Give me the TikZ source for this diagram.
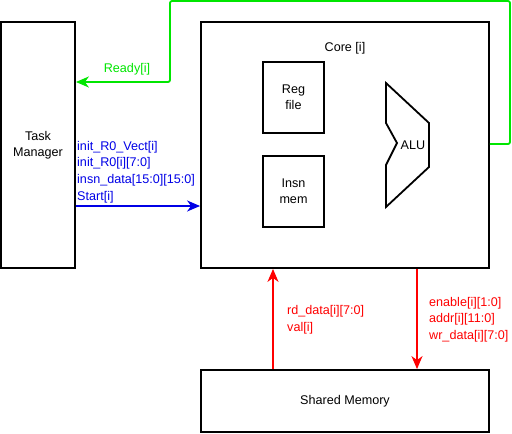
\documentclass[tikz,border=0pt]{standalone}
\usepackage{fontspec}
\setmainfont{Liberation Sans}
\usetikzlibrary{arrows.meta}
\definecolor{sigred}{RGB}{255,0,0}
\definecolor{siggreen}{RGB}{0,230,0}
\definecolor{sigblue}{RGB}{0,0,230}
\begin{document}
\begin{tikzpicture}[x=1pt,y=-1pt,
    lbl/.style={font=\fontsize{12.6}{16.6}\selectfont,inner sep=0pt,align=left,anchor=west}]
            \useasboundingbox (0,0) rectangle (512,434);
            \begin{scope}[every node/.style={draw,line width=1.8pt,font=\fontsize{12.6}{16}\selectfont,align=center,inner sep=0pt}]
                \node (TM) [minimum width=74,minimum height=246] at (38,145) {Task\\Manager};
                \node (Core) [minimum width=288,minimum height=246] at (345,145) {};
                \node (Reg) [minimum width=61,minimum height=71] at (293.5,97.5) {Reg\\file};
                \node (Insn) [minimum width=61,minimum height=71] at (293.5,191.5) {Insn\\mem};
                \node (Mem) [minimum width=288,minimum height=62] at (345,401) {Shared Memory};
            \end{scope}
            \node[font=\fontsize{12.6}{16}\selectfont] (CoreLbl) at (345,48) {Core [i]};
            % ALU
            \draw[line width=1.8pt] (386,83) -- (429,123) -- (429,167) -- (386,207) -- (386,165) -- (397,143) -- (386,123) -- cycle;
            \node[font=\fontsize{12.6}{16}\selectfont,inner sep=0pt] (ALU) at (413,145) {ALU};
            % signals
            \coordinate (tmIn) at (TM.east |- 0,206);
            \coordinate (tmRdy) at (TM.east |- 0,82);
            \coordinate (coreRdy) at (Core.east |- 0,144);
            \begin{scope}[every path/.style={line width=1.8pt,-{Stealth[length=13pt,width=11pt,inset=4pt]}}]
                \path [draw=sigblue] (tmIn) -- (Core.west |- tmIn);
                \path [draw=siggreen,rounded corners=2pt] (coreRdy) -| (510,1) -| (170,82) -- (tmRdy);
                \path [draw=sigred] (Mem.north -| 273,0) -- (Core.south -| 273,0);
                \path [draw=sigred] (Core.south -| 417,0) -- (Mem.north -| 417,0);
            \end{scope}
            \node[lbl,text=siggreen,anchor=center] (RdyLbl) at (127,69) {Ready[i]};
            \node[lbl,text=sigblue] (InLbl) at (77,172) {init\_R0\_Vect[i]\\init\_R0[i][7:0]\\insn\_data[15:0][15:0]\\Start[i]};
            \node[lbl,text=sigred] (RdLbl) at (287,320) {rd\_data[i][7:0]\\val[i]};
            \node[lbl,text=sigred] (WrLbl) at (429,319.5) {enable[i][1:0]\\addr[i][11:0]\\wr\_data[i][7:0]};
\end{tikzpicture}
\end{document}
